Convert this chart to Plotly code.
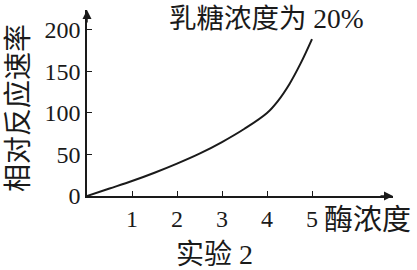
import plotly.graph_objects as go

# data
enzyme_conc = [0, 0.5, 1, 1.5, 2, 2.5, 3, 3.5, 4, 4.25, 4.5, 4.75, 5]
rate = [0, 9, 18, 28, 39, 51, 65, 81, 100, 115, 135, 160, 189]
x_ticks = [1, 2, 3, 4, 5]
y_ticks = [0, 50, 100, 150, 200]

FONT = "Liberation Serif, Times New Roman, Noto Sans CJK SC, serif"
INK = "#1a1a1a"

fig = go.Figure()
fig.add_trace(go.Scatter(
    x=enzyme_conc, y=rate, mode="lines",
    line=dict(color=INK, width=2, shape="spline", smoothing=1),
    showlegend=False, hoverinfo="skip",
))

fig.update_layout(
    width=417, height=270,
    margin=dict(l=87, r=24, t=10, b=74),
    paper_bgcolor="white", plot_bgcolor="white",
    font=dict(family=FONT, color=INK, size=24),
    xaxis=dict(
        range=[0, 6.8], tickvals=x_ticks, ticktext=[str(t) for t in x_ticks],
        showline=True, linecolor=INK, linewidth=1.5, showgrid=False, zeroline=False,
        ticks="inside", ticklen=5, tickcolor=INK, tickwidth=1.2,
        tickfont=dict(family=FONT, size=24, color=INK), ticklabelstandoff=0,
    ),
    yaxis=dict(
        range=[0, 224], tickvals=y_ticks, ticktext=[str(t) for t in y_ticks],
        showline=True, linecolor=INK, linewidth=1.5, showgrid=False, zeroline=False,
        ticks="inside", ticklen=5, tickcolor=INK, tickwidth=1.2,
        tickfont=dict(family=FONT, size=24, color=INK), ticklabelstandoff=0,
    ),
)

# axis arrowheads
fig.add_annotation(x=0, y=224, xref="x", yref="y", ax=0, ay=14, text="",
                   showarrow=True, arrowhead=2, arrowsize=1.2, arrowwidth=1.5, arrowcolor=INK)
fig.add_annotation(x=6.8, y=0, xref="x", yref="y", ax=-14, ay=0, text="",
                   showarrow=True, arrowhead=2, arrowsize=1.2, arrowwidth=1.5, arrowcolor=INK)

# texts
def label(text, x, y, size, angle=0):
    fig.add_annotation(text=text, xref="paper", yref="paper", x=x, y=y,
                       xanchor="center", yanchor="middle", textangle=angle,
                       showarrow=False, font=dict(family=FONT, size=size, color=INK))

label("相对反应速率", -0.2255, 0.473, 28, -90)
label("酶浓度", 0.918, -0.129, 29)
label("实验 2", 0.418, -0.317, 28)
label("乳糖浓度为 20%", 0.585, 0.952, 27.5)

fig.write_html("out.html")
